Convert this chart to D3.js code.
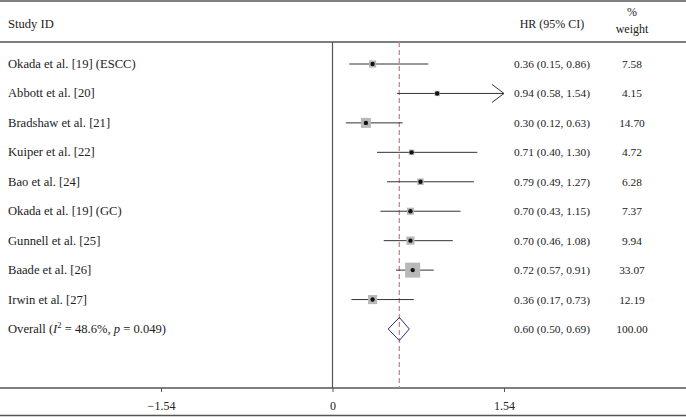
<!DOCTYPE html>
<html>
<head>
<meta charset="utf-8">
<script src="https://cdn.jsdelivr.net/npm/d3@7"></script>
<style>
  body { margin: 0; background: #fff; }
  svg { display: block; font-family: "Liberation Serif", "DejaVu Serif", serif; }
</style>
</head>
<body>
<svg id="chart" width="686" height="417"></svg>
<script>
// Study data
const studies = [
  'Okada et al. [19] (ESCC)', 'Abbott et al. [20]', 'Bradshaw et al. [21]',
  'Kuiper et al. [22]', 'Bao et al. [24]', 'Okada et al. [19] (GC)',
  'Gunnell et al. [25]', 'Baade et al. [26]', 'Irwin et al. [27]'
];
const hr     = [0.36, 0.94, 0.30, 0.71, 0.79, 0.70, 0.70, 0.72, 0.36];
const lower  = [0.15, 0.58, 0.12, 0.40, 0.49, 0.43, 0.46, 0.57, 0.17];
const upper  = [0.86, 1.54, 0.63, 1.30, 1.27, 1.15, 1.08, 0.91, 0.73];
const weight = [7.58, 4.15, 14.70, 4.72, 6.28, 7.37, 9.94, 33.07, 12.19];
const overall = { hr: 0.60, lower: 0.50, upper: 0.69, weight: 100.00 };
const axisTicks = [-1.54, 0, 1.54];

const fmt = d3.format('.2f');
const W = 686, H = 417;
const svg = d3.select('#chart');
const labelSize = 12.6, numSize = 11.4;

const x = d3.scaleLinear().domain([-1.54, 1.54]).range([161, 504]);
const rows = studies.concat(['Overall']);
const y = d3.scalePoint().domain(d3.range(rows.length)).range([64, 329]);
const boxSide = d3.scaleSqrt().domain([0, 33.07]).range([0, 15]);

const lineCol = '#555';

// frame lines
svg.append('line').attr('x1', 0).attr('x2', W).attr('y1', 1).attr('y2', 1)
  .attr('stroke', lineCol).attr('stroke-width', 1.5);
svg.append('line').attr('x1', 0).attr('x2', W).attr('y1', 42).attr('y2', 42)
  .attr('stroke', lineCol).attr('stroke-width', 1.3);
svg.append('line').attr('x1', 0).attr('x2', W).attr('y1', 415.5).attr('y2', 415.5)
  .attr('stroke', lineCol).attr('stroke-width', 1.5);

// headers
const hdr = svg.append('g').attr('font-size', 12).attr('fill', '#222');
hdr.append('text').attr('x', 8).attr('y', 28).attr('font-size', labelSize).text('Study ID');
hdr.append('text').attr('x', 552).attr('y', 28).attr('text-anchor', 'middle').text('HR (95% CI)');
hdr.append('text').attr('x', 632).attr('y', 16).attr('text-anchor', 'middle').text('%');
hdr.append('text').attr('x', 632).attr('y', 33).attr('text-anchor', 'middle').text('weight');

// x axis
const axisY = 388;
const axisG = svg.append('g').attr('transform', `translate(0,${axisY})`)
  .call(d3.axisBottom(x).tickValues(axisTicks).tickSize(4).tickPadding(9)
    .tickFormat(d => d === 0 ? '0' : fmt(d).replace('-', '\u2212')));
axisG.select('.domain').remove();
axisG.selectAll('line').attr('stroke', lineCol);
axisG.selectAll('text').attr('font-family', '"Liberation Serif", serif')
  .attr('font-size', 12).attr('fill', '#222');
svg.append('line').attr('x1', 0).attr('x2', W).attr('y1', axisY).attr('y2', axisY)
  .attr('stroke', lineCol).attr('stroke-width', 1.3);

// null line
svg.append('line').attr('x1', x(0)).attr('x2', x(0)).attr('y1', 42).attr('y2', axisY)
  .attr('stroke', lineCol).attr('stroke-width', 1.2);

// overall effect dashed line
svg.append('line').attr('x1', x(overall.hr)).attr('x2', x(overall.hr))
  .attr('y1', 42).attr('y2', axisY)
  .attr('stroke', '#cc8590').attr('stroke-width', 1.3).attr('stroke-dasharray', '5,3');

// study rows
const g = svg.append('g');
studies.forEach((s, i) => {
  const cy = y(i);
  const x2 = Math.min(x(upper[i]), x.range()[1]);
  g.append('line').attr('x1', x(lower[i])).attr('x2', x2).attr('y1', cy).attr('y2', cy)
    .attr('stroke', '#333').attr('stroke-width', 1);
  if (upper[i] >= x.domain()[1]) {
    g.append('path')
      .attr('d', `M${x2 - 12},${cy - 9}L${x2},${cy}L${x2 - 12},${cy + 9}`)
      .attr('fill', 'none').attr('stroke', '#333').attr('stroke-width', 1);
  }
  const side = boxSide(weight[i]);
  g.append('rect').attr('x', x(hr[i]) - side / 2).attr('y', cy - side / 2)
    .attr('width', side).attr('height', side).attr('fill', '#b8b8b8');
  g.append('circle').attr('cx', x(hr[i])).attr('cy', cy).attr('r', 2.2).attr('fill', '#111');

  g.append('text').attr('x', 8).attr('y', cy + 4).attr('font-size', labelSize).attr('fill', '#222').text(s);
  g.append('text').attr('x', 552).attr('y', cy + 4).attr('text-anchor', 'middle')
    .attr('font-size', numSize).attr('fill', '#222')
    .text(`${fmt(hr[i])} (${fmt(lower[i])}, ${fmt(upper[i])})`);
  g.append('text').attr('x', 632).attr('y', cy + 4).attr('text-anchor', 'middle')
    .attr('font-size', numSize).attr('fill', '#222').text(fmt(weight[i]));
});

// overall row
const oy = y(studies.length);
g.append('path')
  .attr('d', `M${x(overall.lower)},${oy}L${x(overall.hr)},${oy - 11.5}L${x(overall.upper)},${oy}L${x(overall.hr)},${oy + 11.5}Z`)
  .attr('fill', 'none').attr('stroke', '#2b2b7a').attr('stroke-width', 1);

const ot = g.append('text').attr('x', 8).attr('y', oy + 4).attr('font-size', labelSize).attr('fill', '#222');
ot.append('tspan').text('Overall (');
ot.append('tspan').attr('font-style', 'italic').text('I');
ot.append('tspan').attr('font-size', 8.5).attr('dy', -5).text('2');
ot.append('tspan').attr('dy', 5).text(' = 48.6%, ');
ot.append('tspan').attr('font-style', 'italic').text('p');
ot.append('tspan').text(' = 0.049)');

g.append('text').attr('x', 552).attr('y', oy + 4).attr('text-anchor', 'middle')
  .attr('font-size', numSize).attr('fill', '#222')
  .text(`${fmt(overall.hr)} (${fmt(overall.lower)}, ${fmt(overall.upper)})`);
g.append('text').attr('x', 632).attr('y', oy + 4).attr('text-anchor', 'middle')
  .attr('font-size', numSize).attr('fill', '#222').text(fmt(overall.weight));
</script>
</body>
</html>
